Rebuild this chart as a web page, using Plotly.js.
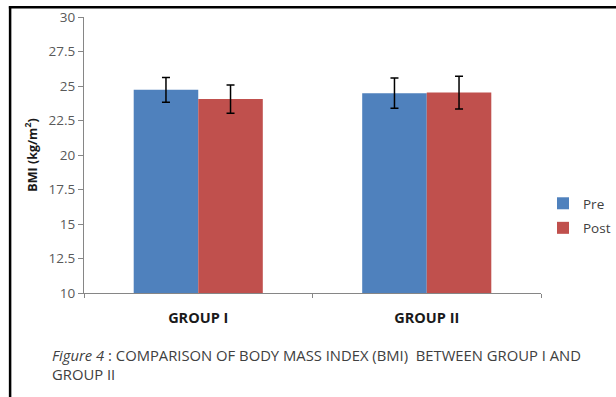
<!DOCTYPE html>
<html>
<head>
<meta charset="utf-8">
<script src="https://cdn.plot.ly/plotly-3.0.1.min.js"></script>
<style>html,body{margin:0;padding:0;background:#fff;}#chart{width:616px;height:397px;}</style>
</head>
<body>
<div id="chart"></div>
<script>
const categories = ["GROUP I", "GROUP II"];
const preValues = [24.72, 24.48];
const preErrors = [0.9, 1.1];
const postValues = [24.05, 24.52];
const postErrors = [1.03, 1.19];
const yTicks = [10, 12.5, 15, 17.5, 20, 22.5, 25, 27.5, 30];
const yTickLabels = ["10", "12.5", "15", "17.5", "20", "22.5", "25", "27.5", "30"];

const FONT = "Open Sans, Liberation Sans, sans-serif";

// plot area in pixels
const L = 84.3, R = 540.7, T = 17.3, B = 292.7, W = 616, H = 397;
const px = v => (v - L) / (R - L);
const py = v => (B - v) / (B - T);

const traces = [
  {
    type: "bar", name: "Pre", x: categories, y: preValues,
    marker: {color: "#4F81BD"},
    error_y: {type: "data", array: preErrors, visible: true, color: "#000000", thickness: 1.5, width: 4},
    legendgroup: "a"
  },
  {
    type: "bar", name: "Post", x: categories, y: postValues,
    marker: {color: "#C0504D"},
    error_y: {type: "data", array: postErrors, visible: true, color: "#000000", thickness: 1.5, width: 4},
    legendgroup: "b"
  }
];

const layout = {
  width: W, height: H,
  margin: {l: L, r: W - R, t: T, b: H - B, pad: 0, autoexpand: false},
  paper_bgcolor: "#ffffff", plot_bgcolor: "#ffffff",
  font: {family: FONT, size: 13, color: "#404040"},
  barmode: "group", bargap: 0.435, bargroupgap: 0,
  showlegend: true,
  legend: {
    xref: "container", yref: "container",
    x: 543 / W, y: (H - 216) / H, xanchor: "left", yanchor: "middle",
    font: {family: FONT, size: 13.5, color: "#404040"},
    tracegroupgap: 4, itemwidth: 30, bgcolor: "rgba(0,0,0,0)"
  },
  xaxis: {
    type: "category",
    showline: true, linecolor: "#868686", linewidth: 1,
    ticks: "outside", ticklen: 4, tickcolor: "#868686", tickson: "boundaries",
    tickfont: {family: FONT, size: 14.5, color: "#1a1a1a", weight: "bold"},
    ticklabelstandoff: 12,
    showgrid: false, zeroline: false
  },
  yaxis: {
    range: [10, 30], tickvals: yTicks, ticktext: yTickLabels,
    showline: true, linecolor: "#868686", linewidth: 1,
    ticks: "outside", ticklen: 5, tickcolor: "#868686",
    tickfont: {family: FONT, size: 13.5, color: "#595959"},
    showgrid: false, zeroline: false,
    title: {text: "BMI (kg/m<sup>2</sup>)", font: {family: FONT, size: 12.5, color: "#1a1a1a", weight: "bold"}, standoff: 8}
  },
  shapes: [
    {type: "line", xref: "paper", yref: "paper",
     x0: px(10.5), x1: px(10.5), y0: py(420), y1: py(6.5),
     line: {color: "#000000", width: 2.5}, layer: "above"},
    {type: "line", xref: "paper", yref: "paper",
     x0: px(9.25), x1: px(680), y0: py(7.5), y1: py(7.5),
     line: {color: "#000000", width: 2.5}, layer: "above"}
  ],
  annotations: [
    {xref: "paper", yref: "paper", x: px(50), y: py(343), xanchor: "left", yanchor: "top",
     align: "left", showarrow: false,
     text: "<i>Figure 4</i> : COMPARISON OF BODY MASS INDEX (BMI)  BETWEEN GROUP I AND<br>GROUP II",
     font: {family: FONT, size: 14.8, color: "#404040", lineposition: "none"}}
  ]
};

Plotly.newPlot("chart", traces, layout, {displayModeBar: false, staticPlot: true});
</script>
</body>
</html>
